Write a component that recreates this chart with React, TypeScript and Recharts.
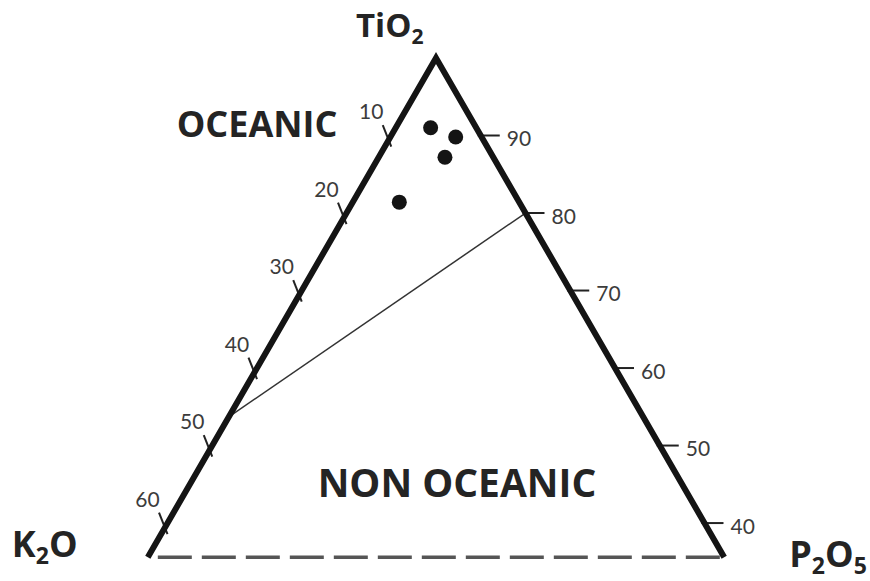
import { ScatterChart, Scatter, XAxis, YAxis, ReferenceLine } from "recharts";

// compositions in % : TiO2 / K2O / P2O5
const samples = [
  { tio2: 91.0, k2o: 5.1, p2o5: 3.9 },
  { tio2: 89.8, k2o: 2.9, p2o5: 7.3 },
  { tio2: 87.2, k2o: 5.4, p2o5: 7.4 },
  { tio2: 81.4, k2o: 13.4, p2o5: 5.2 },
];
const leftTicks = [10, 20, 30, 40, 50, 60]; // K2O on the TiO2-K2O side
const rightTicks = [90, 80, 70, 60, 50, 40]; // TiO2 on the TiO2-P2O5 side
const baseTiO2 = 35.6; // diagram is cut off here (dashed base)
const dividerFrom = { tio2: 53.7, k2o: 46.3, p2o5: 0 };
const dividerTo = { tio2: 80, k2o: 0, p2o5: 20 };
const corners = [
  { name: "K2O", tio2: baseTiO2, k2o: 100 - baseTiO2, p2o5: 0 },
  { name: "TiO2", tio2: 100, k2o: 0, p2o5: 0 },
  { name: "P2O5", tio2: baseTiO2, k2o: 0, p2o5: 100 - baseTiO2 },
];

type Comp = { tio2: number; k2o: number; p2o5: number };
const H = Math.sqrt(3) / 2;
const toXY = (c: Comp) => {
  const s = c.tio2 + c.k2o + c.p2o5;
  return { x: ((c.p2o5 + c.tio2 / 2) * 100) / s, y: (c.tio2 * H * 100) / s };
};

// layout: 8.95 px per unit, apex drawn at (436, 58)
const W = 870;
const HT = 581;
const K = 8.95;
const APX = 436;
const APY = 58;
const xDomain = [50 - APX / K, 50 + (W - APX) / K];
const yDomain = [100 * H - (HT - APY) / K, 100 * H + APY / K];

const outline = corners.map((c) => ({ ...toXY(c), name: c.name }));
const pts = samples.map(toXY);
const lt = leftTicks.map((v) => ({ ...toXY({ tio2: 100 - v, k2o: v, p2o5: 0 }), v }));
const rt = rightTicks.map((v) => ({ ...toXY({ tio2: v, k2o: 0, p2o5: 100 - v }), v }));
const bl = toXY(corners[0]);
const br = toXY(corners[2]);
const d1 = toXY(dividerFrom);
const d2 = toXY(dividerTo);

const bold = { fontFamily: "'Open Sans', sans-serif", fontWeight: 700, fill: "#242424" };
const tickFont = { fontFamily: "Lato, sans-serif", fontSize: 21, fill: "#3c3c3c" };

const Formula = ({ name, x, y, size }: { name: string; x: number; y: number; size: number }) => {
  const parts = name.match(/[A-Za-z]+|\d+/g) || [];
  return (
    <text x={x} y={y} fontSize={size} {...bold}>
      {parts.map((p, i) =>
        /\d/.test(p) ? (
          <tspan key={i} fontSize={size * 0.64} dy={7}>{p}</tspan>
        ) : (
          <tspan key={i} dy={i > 0 ? -7 : 0}>{p}</tspan>
        )
      )}
    </text>
  );
};

const cornerLabel: Record<string, [number, number, number]> = {
  K2O: [-136, 0, 36],
  TiO2: [-80, -21, 33],
  P2O5: [65, 10, 36],
};

export default function App() {
  return (
    <div style={{ position: "absolute", left: 0, top: 0, background: "#fff" }}>
      <ScatterChart width={W} height={HT} margin={{ top: 0, right: 0, bottom: 0, left: 0 }}>
        <XAxis type="number" dataKey="x" hide domain={xDomain} allowDataOverflow />
        <YAxis type="number" dataKey="y" hide domain={yDomain} allowDataOverflow />
        <ReferenceLine
          segment={[bl, br]}
          stroke="#555"
          strokeWidth={3.5}
          strokeDasharray="34 10"
          strokeDashoffset={34}
        />
        <ReferenceLine segment={[d1, d2]} stroke="#333" strokeWidth={1.5} />
        <Scatter
          data={lt}
          isAnimationActive={false}
          shape={(p: any) => (
            <g>
              <line x1={p.cx - 8.5} y1={p.cy - 10.5} x2={p.cx} y2={p.cy + 11} stroke="#222" strokeWidth={2} />
              <text x={p.cx - 20} y={p.cy - 25} textAnchor="middle" dominantBaseline="central" {...tickFont}>
                {p.payload.v}
              </text>
            </g>
          )}
        />
        <Scatter
          data={rt}
          isAnimationActive={false}
          shape={(p: any) => (
            <g>
              <line x1={p.cx - 3} y1={p.cy} x2={p.cx + 19} y2={p.cy} stroke="#222" strokeWidth={2} />
              <text x={p.cx + 26} y={p.cy + 2} dominantBaseline="central" {...tickFont}>
                {p.payload.v}
              </text>
            </g>
          )}
        />
        <Scatter
          data={outline}
          isAnimationActive={false}
          line={{ stroke: "#141414", strokeWidth: 6, strokeLinejoin: "miter" }}
          lineJointType="linear"
          shape={(p: any) => {
            const o = cornerLabel[p.payload.name];
            return <Formula name={p.payload.name} x={p.cx + o[0]} y={p.cy + o[1]} size={o[2]} />;
          }}
        />
        <Scatter
          data={pts}
          isAnimationActive={false}
          shape={(p: any) => <circle cx={p.cx} cy={p.cy} r={7.5} fill="#141414" />}
        />
        <text x={257} y={137} textAnchor="middle" fontSize={36} {...bold}>
          OCEANIC
        </text>
        <text x={457} y={497} textAnchor="middle" fontSize={39} {...bold}>
          NON OCEANIC
        </text>
      </ScatterChart>
    </div>
  );
}
